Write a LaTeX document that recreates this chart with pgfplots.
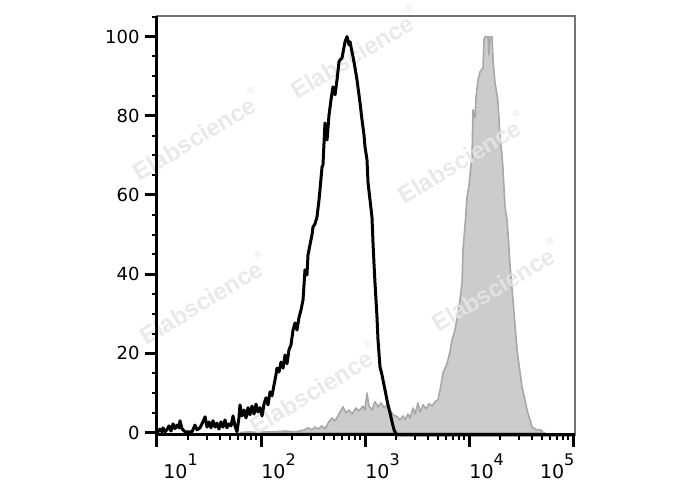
\documentclass[border=0pt]{standalone}
\usepackage{fontspec}
\setmainfont{DejaVu Sans}
\newfontfamily\wmfont{Liberation Sans}
\usepackage{pgfplots}
\pgfplotsset{compat=1.18}
\newcommand{\dec}[1]{{\fontsize{9.5}{10}\selectfont 10\raisebox{0.72em}{\fontsize{8}{8}\selectfont #1}}}
\newcommand{\wm}{{\wmfont\bfseries\fontsize{12}{12}\selectfont Elabscience\raisebox{0.7em}{\fontsize{5}{5}\selectfont ®}}}
\begin{document}
\begin{tikzpicture}
\begin{axis}[
  width=209pt, height=209.5pt, scale only axis,
  xmin=1, xmax=5.019, ymin=-0.6, ymax=105.2,
  clip=false,
  xtick={1,2,3,4,5},
  xticklabels={\hspace*{3pt}\dec{1},\dec{2},\dec{3},\dec{4},\llap{\dec{5}}},
  minor xtick={1.301,1.477,1.602,1.699,1.778,1.845,1.903,1.954,
               2.301,2.477,2.602,2.699,2.778,2.845,2.903,2.954,
               3.301,3.477,3.602,3.699,3.778,3.845,3.903,3.954,
               4.301,4.477,4.602,4.699,4.778,4.845,4.903,4.954},
  ytick={0,20,40,60,80,100},
  minor ytick={5,10,15,25,30,35,45,50,55,65,70,75,85,90,95,105},
  tick align=outside,
  xtick pos=bottom, ytick pos=left,
  major tick length=6pt, minor tick length=2.5pt,
  every major tick/.append style={black, line width=1.5pt},
  every minor tick/.append style={black, line width=1pt},
  axis line style={draw=black!55, line width=0.6pt},
  tick label style={font=\fontsize{9}{10}\selectfont},
  /pgf/number format/assume math mode=true,
  xticklabel style={anchor=north west, inner sep=0pt, yshift=-3pt},
  yticklabel style={inner sep=2.5pt},
]
\addplot[fill=black!20, draw=black!34, line width=0.8pt, line join=round] table {
1.798 0
1.894 0.2
1.971 0
2.038 0.2
2.135 0.2
2.231 0.4
2.327 0.2
2.423 0.7
2.452 1.2
2.490 0.7
2.519 1.4
2.548 0.9
2.587 1.7
2.615 0.9
2.644 2.4
2.683 3.7
2.712 2.95
2.760 5.2
2.788 6.5
2.817 5.0
2.846 5.7
2.875 4.7
2.913 6.2
2.942 5.5
2.981 6.7
3.000 5.7
3.019 10.0
3.038 6.7
3.067 5.7
3.096 7.8
3.125 6.5
3.154 7.5
3.183 6.2
3.212 7.0
3.240 5.7
3.269 4.5
3.308 4.0
3.337 3.2
3.365 4.2
3.385 3.2
3.413 4.7
3.433 3.7
3.462 6.2
3.481 4.7
3.510 7.5
3.529 5.2
3.558 7.0
3.587 6.0
3.615 7.3
3.644 6.7
3.673 7.8
3.702 8.3
3.731 12.0
3.750 15.1
3.779 16.8
3.798 18.4
3.817 20.4
3.837 23.4
3.865 25.9
3.894 30.2
3.913 33.5
3.933 37.8
3.942 46.1
3.962 52.4
3.981 59.5
4.000 62.5
4.019 67.6
4.029 68.9
4.038 81.5
4.058 79.5
4.067 84.6
4.087 89.1
4.106 91.1
4.135 92.1
4.144 99.2
4.154 100
4.173 100
4.183 100
4.192 95.4
4.202 100
4.221 100
4.231 94.1
4.250 88.3
4.269 85.3
4.279 83.3
4.298 74.7
4.317 70.1
4.327 66.3
4.346 57.0
4.365 53.7
4.375 50.4
4.394 42.3
4.423 33.5
4.442 27.2
4.462 20.9
4.490 15.3
4.510 11.5
4.538 8.3
4.558 5.7
4.587 3.2
4.606 1.4
4.635 0.9
4.663 0.7
4.692 0.7
4.712 0
4.731 0
} \closedcycle;
\node[overlay, rotate=31, text=black!10, opacity=0.85] at (axis cs:2.894,96.1) {\wm};
\node[overlay, rotate=31, text=black!10, opacity=0.85] at (axis cs:1.375,75.4) {\wm};
\node[overlay, rotate=31, text=black!10, opacity=0.85] at (axis cs:3.923,69.6) {\wm};
\node[overlay, rotate=31, text=black!10, opacity=0.85] at (axis cs:1.442,34.0) {\wm};
\node[overlay, rotate=31, text=black!10, opacity=0.85] at (axis cs:4.250,37.3) {\wm};
\node[overlay, rotate=31, text=black!10, opacity=0.85] at (axis cs:2.500,11.3) {\wm};
\addplot[black, line width=1.5pt, line join=round] table {
1.000 0
1.010 0.2
1.029 0.9
1.048 0.2
1.058 1.2
1.077 0.2
1.096 0.7
1.115 1.7
1.135 0.4
1.154 2.2
1.173 1.0
1.192 1.9
1.212 1.2
1.221 3.0
1.240 1.0
1.269 0.2
1.298 0.2
1.337 0.2
1.365 1.9
1.385 0.7
1.413 1.2
1.442 2.7
1.462 4.0
1.481 1.4
1.500 2.7
1.519 1.2
1.538 3.0
1.558 1.4
1.577 2.4
1.596 0.9
1.615 2.7
1.635 1.4
1.654 3.2
1.673 1.2
1.692 2.2
1.712 1.7
1.731 4.2
1.750 1.7
1.769 0.2
1.788 3.7
1.798 7.0
1.817 4.2
1.837 5.7
1.856 3.7
1.875 6.3
1.894 4.5
1.913 6.7
1.933 4.7
1.952 7.2
1.971 5.2
1.990 6.3
2.010 4.2
2.029 7.2
2.048 8.8
2.067 7.0
2.087 10.3
2.106 9.3
2.125 12.0
2.144 14.6
2.154 16.3
2.173 15.3
2.192 17.8
2.212 16.3
2.231 19.6
2.250 17.4
2.269 20.9
2.288 22.1
2.308 25.9
2.327 27.7
2.346 25.9
2.365 29.0
2.385 31.0
2.404 33.5
2.423 41.1
2.442 39.8
2.452 44.9
2.471 47.4
2.490 49.9
2.500 51.9
2.519 52.7
2.538 54.4
2.558 58.8
2.567 61.3
2.587 67.1
2.596 67.6
2.615 78.2
2.635 73.9
2.654 80.2
2.673 84.0
2.692 87.3
2.712 85.3
2.731 89.1
2.750 93.6
2.760 94.1
2.779 94.6
2.788 95.9
2.808 98.7
2.827 100
2.846 97.9
2.856 98.7
2.875 96.1
2.885 94.9
2.904 92.1
2.923 89.1
2.942 85.3
2.952 83.3
2.971 79.0
2.990 75.2
3.000 72.2
3.019 68.9
3.029 63.1
3.048 58.8
3.067 54.4
3.077 47.9
3.087 42.3
3.096 37.8
3.115 29.3
3.125 23.4
3.144 16.6
3.163 14.6
3.183 12.0
3.202 9.5
3.221 7.0
3.240 5.0
3.260 2.7
3.279 0.7
3.298 -0.3
3.317 -0.6
5.019 -0.6
};
\draw[black, line width=1.5pt] (rel axis cs:0,1) -- (rel axis cs:0,0) -- (rel axis cs:1,0);
\end{axis}
\path[use as bounding box] ([xshift=-78.5pt,yshift=-27.5pt]current axis.south west) rectangle ([xshift=56.5pt,yshift=8pt]current axis.north east);
\end{tikzpicture}
\end{document}
